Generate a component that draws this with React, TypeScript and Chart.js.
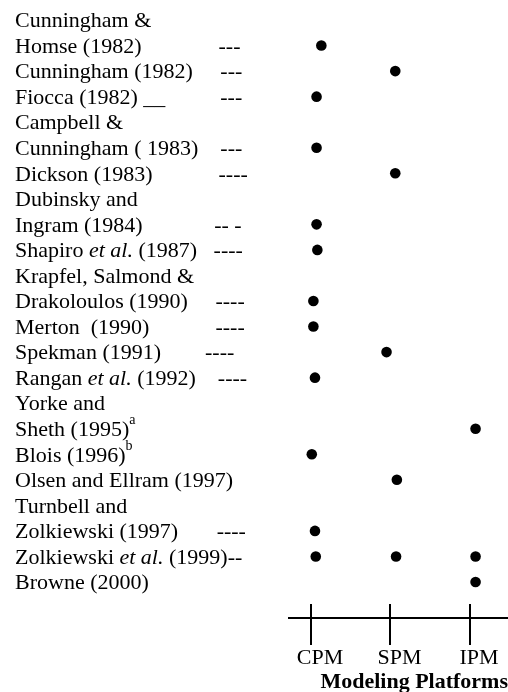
import { useEffect, useRef } from 'react';
import { Chart, registerables } from 'chart.js';

Chart.register(...registerables);

const sp = (n: number) => ' '.repeat(n);

// Row texts of the study list (one entry per printed line); *...* = italic, ^x = superscript
const rowLabels: string[] = [
  'Cunningham &',
  'Homse (1982)' + sp(14) + '---',
  'Cunningham (1982)' + sp(5) + '---',
  'Fiocca (1982) __' + sp(10) + '---',
  'Campbell &',
  'Cunningham ( 1983)' + sp(4) + '---',
  'Dickson (1983)' + sp(12) + '----',
  'Dubinsky and',
  'Ingram (1984)' + sp(13) + '-- -',
  'Shapiro *et al.* (1987)' + sp(3) + '----',
  'Krapfel, Salmond &',
  'Drakoloulos (1990)' + sp(5) + '----',
  'Merton  (1990)' + sp(12) + '----',
  'Spekman (1991)' + sp(8) + '----',
  'Rangan *et al.* (1992)' + sp(4) + '----',
  'Yorke and',
  'Sheth (1995)^a',
  'Blois (1996)^b',
  'Olsen and Ellram (1997)',
  'Turnbell and',
  'Zolkiewski (1997)' + sp(7) + '----',
  'Zolkiewski *et al.* (1999)--',
  'Browne (2000)',
];

// Platform tick labels (x = 1, 2, 3)
const platformLabels = ['CPM', 'SPM', 'IPM'];

// Dots: row index of the study line and platform position
const studyRows = [1, 2, 3, 5, 6, 8, 9, 11, 12, 13, 14, 16, 17, 18, 20, 21, 21, 21, 22];
const platformValues = [1.13, 2.06, 1.07, 1.07, 2.06, 1.07, 1.08, 1.03, 1.03, 1.95, 1.05, 3.07, 1.01, 2.08, 1.05, 1.06, 2.07, 3.07, 3.07];

const FAMILY = '"Liberation Serif", "Times New Roman", serif';
const FONT = `22px ${FAMILY}`;
const SUP_FONT = `14px ${FAMILY}`;

const rowLabelPlugin = {
  id: 'rowLabels',
  afterDraw(chart: any) {
    const ctx = chart.ctx as CanvasRenderingContext2D;
    const ys = chart.scales.y;
    const xs = chart.scales.x;
    ctx.save();
    ctx.fillStyle = '#000';
    ctx.textAlign = 'left';
    ctx.textBaseline = 'alphabetic';
    rowLabels.forEach((label, i) => {
      const base = ys.getPixelForValue(i) + 7.3;
      let x = ys.left + 15;
      const parts = label.split(/(\*[^*]+\*|\^\w)/).filter((p) => p.length > 0);
      for (const p of parts) {
        let text = p;
        let font = FONT;
        let dy = 0;
        if (p.startsWith('*') && p.endsWith('*') && p.length > 2) {
          text = p.slice(1, -1);
          font = `italic ${FONT}`;
        } else if (p.startsWith('^')) {
          text = p.slice(1);
          font = SUP_FONT;
          dy = -12;
        }
        ctx.font = font;
        ctx.fillText(text, x, base + dy);
        x += ctx.measureText(text).width;
      }
    });
    // upper half of the crossing tick marks on the axis
    const bottom = chart.chartArea.bottom;
    ctx.strokeStyle = '#000';
    ctx.lineWidth = 2;
    xs.ticks.forEach((t: any) => {
      const px = Math.round(xs.getPixelForValue(t.value));
      ctx.beginPath();
      ctx.moveTo(px, bottom - 14);
      ctx.lineTo(px, bottom);
      ctx.stroke();
    });
    ctx.restore();
  },
};

export default function App() {
  const canvasRef = useRef<HTMLCanvasElement | null>(null);

  useEffect(() => {
    if (!canvasRef.current) return;
    const data = studyRows.map((r, i) => ({ x: platformValues[i], y: r }));
    const chart = new Chart(canvasRef.current, {
      type: 'scatter',
      data: {
        datasets: [
          {
            data,
            pointRadius: 5.3,
            pointHoverRadius: 5.3,
            backgroundColor: '#000',
            borderColor: '#000',
            borderWidth: 0,
            showLine: false,
            clip: false as any,
          },
        ],
      },
      options: {
        animation: false,
        responsive: true,
        maintainAspectRatio: false,
        layout: { padding: 0, autoPadding: false },
        plugins: {
          legend: { display: false },
          tooltip: { enabled: false },
        },
        scales: {
          x: {
            type: 'linear',
            min: 0.7233,
            max: 3.478,
            afterBuildTicks: (s: any) => {
              s.ticks = platformLabels.map((_, i) => ({ value: i + 1 }));
            },
            afterFit: (s: any) => {
              s.height = 74;
              s.paddingLeft = 0;
              s.paddingRight = 0;
            },
            border: { display: true, color: '#000', width: 2 },
            grid: {
              display: true,
              drawOnChartArea: false,
              drawTicks: true,
              tickLength: 27,
              color: '#000',
              lineWidth: 2,
            },
            ticks: {
              callback: (v: any) => platformLabels[Math.round(Number(v)) - 1] ?? '',
              color: '#000',
              font: { family: FAMILY, size: 22 },
              padding: 0,
              labelOffset: 9,
              maxRotation: 0,
              autoSkip: false,
            },
            title: {
              display: true,
              text: 'Modeling Platforms',
              align: 'end',
              color: '#000',
              font: { family: FAMILY, size: 22, weight: 'bold' },
              padding: { top: 4, bottom: -4 },
            },
          },
          y: {
            type: 'linear',
            reverse: true,
            min: -0.783,
            max: 23.409,
            afterFit: (s: any) => {
              s.width = 289;
              s.paddingTop = 0;
              s.paddingBottom = 0;
            },
            ticks: { display: false },
            grid: { display: false },
            border: { display: false },
          },
        },
      },
      plugins: [rowLabelPlugin],
    });
    return () => chart.destroy();
  }, []);

  return (
    <div style={{ position: 'absolute', left: 0, top: 0, width: 508, height: 692, background: '#fff' }}>
      <canvas ref={canvasRef} />
    </div>
  );
}
